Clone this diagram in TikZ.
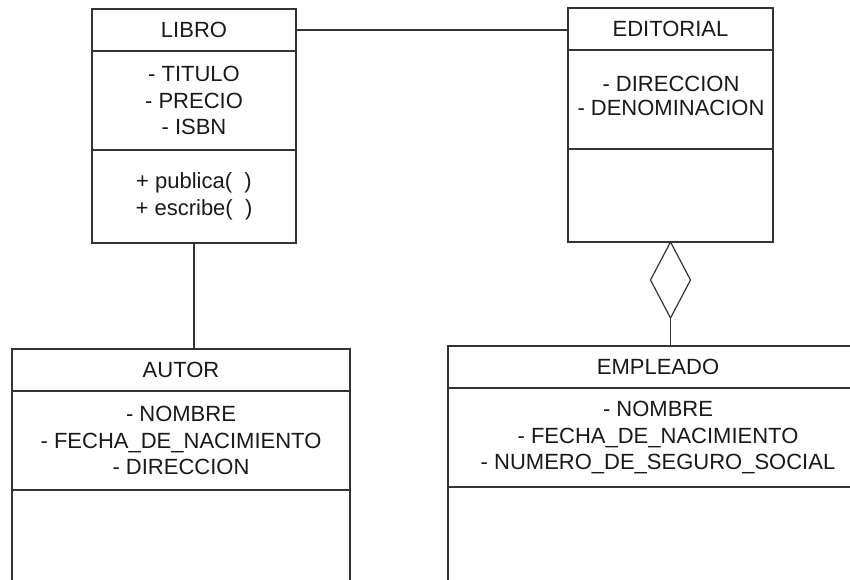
\documentclass[tikz,border=0pt]{standalone}
\usepackage{fontspec}
\setmainfont{Liberation Sans}
\usetikzlibrary{shapes.geometric}
\begin{document}
\begin{tikzpicture}[x=1pt,y=-1pt,
  line width=1.2pt,
  every node/.style={inner sep=0pt,outer sep=0pt},
  sect/.style={draw=black!80,line width=1.2pt,rectangle,anchor=north west,align=center,
    font=\fontsize{22}{26.7}\selectfont,text=black!90},
  conn/.style={draw=black!80,line width=1.2pt},
  agg/.style={draw=black!80,line width=1.2pt,diamond,fill=white,minimum width=40pt,minimum height=76pt,anchor=north}]
\useasboundingbox (0,0) rectangle (850,579);
\begin{scope}
\clip (0,0) rectangle (850,579);
% LIBRO
\node[sect,minimum width=204pt,minimum height=42pt] (libroT) at (92,9) {LIBRO};
\node[sect,minimum width=204pt,minimum height=99pt] (libroA) at (92,51) {- TITULO\\- PRECIO\\- ISBN};
\node[sect,minimum width=204pt,minimum height=93pt] (libroM) at (92,150) {+ publica(\ \ )\\+ escribe(\ \ )};
% EDITORIAL
\node[sect,minimum width=205pt,minimum height=42pt] (editT) at (568,8) {EDITORIAL};
\node[sect,minimum width=205pt,minimum height=99pt] (editA) at (568,50) {};
\node[align=center,font=\fontsize{22}{24}\selectfont,text=black!90] (editTxt) at (671,96) {- DIRECCION\\- DENOMINACION};
\node[sect,minimum width=205pt,minimum height=93pt] (editM) at (568,149) {};
% AUTOR
\node[sect,minimum width=338pt,minimum height=42pt] (autorT) at (12,349) {AUTOR};
\node[sect,minimum width=338pt,minimum height=99pt] (autorA) at (12,391) {- NOMBRE\\- FECHA\_DE\_NACIMIENTO\\- DIRECCION};
\node[sect,minimum width=338pt,minimum height=120pt] (autorM) at (12,490) {};
% EMPLEADO
\node[sect,minimum width=420pt,minimum height=42pt] (empT) at (448,346) {EMPLEADO};
\node[sect,minimum width=420pt,minimum height=99pt] (empA) at (448,388) {- NOMBRE\\- FECHA\_DE\_NACIMIENTO\\- NUMERO\_DE\_SEGURO\_SOCIAL};
\node[sect,minimum width=420pt,minimum height=120pt] (empM) at (448,487) {};
% connectors
\draw[conn] (libroT.east) -- (libroT.east -| editT.west);
\draw[conn] (libroM.south) -- (libroM.south |- autorT.north);
\node[agg] (dia) at (editM.south) {};
\draw[conn] (dia.south) -- (dia.south |- empT.north);
\end{scope}
\end{tikzpicture}
\end{document}
